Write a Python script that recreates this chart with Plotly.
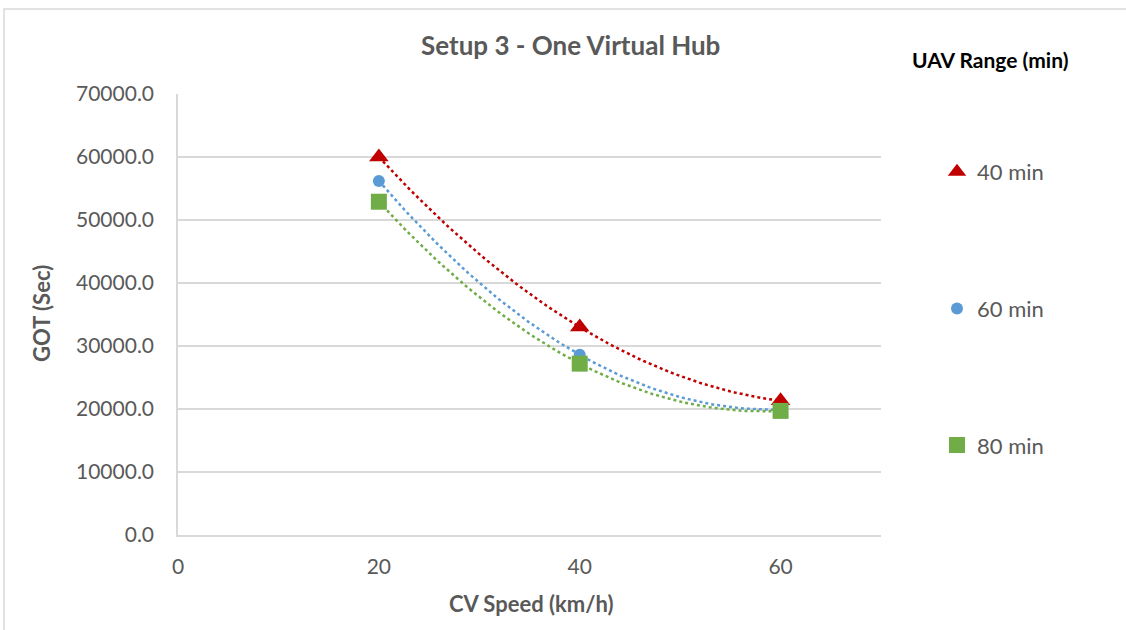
import numpy as np
import plotly.graph_objects as go

speeds = [20, 40, 60]
series_names = ["40 min", "60 min", "80 min"]
got_40 = [60000, 33000, 21300]
got_60 = [56200, 28600, 19900]
got_80 = [52900, 27200, 19700]
y_ticks = [0, 10000, 20000, 30000, 40000, 50000, 60000, 70000]
x_ticks = [0, 20, 40, 60]

W, H = 1126, 630
L, R, T, B = 178, 245, 94, 95
pw, ph = W - L - R, H - T - B

def px_x(x):
    return (x - L) / pw

def px_y(y):
    return (H - B - y) / ph

styles = [
    dict(color="#C00000", symbol="triangle-up", size=17),
    dict(color="#5B9BD5", symbol="circle", size=12),
    dict(color="#70AD47", symbol="square", size=16),
]

fig = go.Figure()
series = [got_40, got_60, got_80]
for i, (name, vals, st) in enumerate(zip(series_names, series, styles)):
    coef = np.polyfit(speeds, vals, 2)
    xs = np.linspace(speeds[0], speeds[-1], 80)
    fig.add_trace(go.Scatter(x=xs, y=np.polyval(coef, xs), mode="lines",
                             line=dict(color=st["color"], width=2.5, dash="dot"),
                             showlegend=False, hoverinfo="skip"))
for i, (name, vals, st) in enumerate(zip(series_names, series, styles)):
    fig.add_trace(go.Scatter(x=speeds, y=vals, mode="markers", name=name,
                             legendgroup=name,
                             marker=dict(color=st["color"], symbol=st["symbol"], size=st["size"])))

gray = "#595959"
center = dict(xanchor="center", yanchor="middle", showarrow=False,
              xref="paper", yref="paper")
fig.update_layout(
    width=W, height=H,
    margin=dict(l=L, r=R, t=T, b=B),
    paper_bgcolor="white", plot_bgcolor="white",
    font=dict(family="Lato, sans-serif", color=gray),
    showlegend=True,
    legend=dict(x=px_x(937), y=px_y(151), xanchor="left", yanchor="top",
                font=dict(size=22, color=gray), tracegroupgap=105,
                itemsizing="trace", bgcolor="rgba(0,0,0,0)"),
    xaxis=dict(range=[0, 70], tickvals=x_ticks, showgrid=False, zeroline=False,
               showline=True, linecolor="#D9D9D9", linewidth=1.5,
               tickfont=dict(size=21, color=gray), ticks="", ticklabelstandoff=12),
    yaxis=dict(range=[0, 70000], tickvals=y_ticks, tickformat=".1f",
               showgrid=True, gridcolor="#D9D9D9", gridwidth=1.5, zeroline=False,
               showline=True, linecolor="#D9D9D9", linewidth=1.5,
               tickfont=dict(size=21, color=gray), ticks="", ticklabelstandoff=18),
    annotations=[
        dict(text="<b>Setup 3 - One Virtual Hub</b>", x=px_x(570), y=px_y(45),
             font=dict(size=26, color=gray), **center),
        dict(text="<b>GOT (Sec)</b>", textangle=-90, x=px_x(41), y=px_y(314),
             font=dict(size=22, color=gray), **center),
        dict(text="<b>CV Speed (km/h)</b>", x=px_x(531), y=px_y(603),
             font=dict(size=22, color=gray), **center),
        dict(text="<b>UAV Range (min)</b>", x=px_x(990), y=px_y(60),
             font=dict(size=21, color="black"), **center),
    ],
    shapes=[dict(type="rect", xref="paper", yref="paper",
                 x0=px_x(4), x1=px_x(1140), y0=px_y(660), y1=px_y(9),
                 line=dict(color="#D9D9D9", width=1.5), layer="below")],
)

fig.write_html("out.html")
